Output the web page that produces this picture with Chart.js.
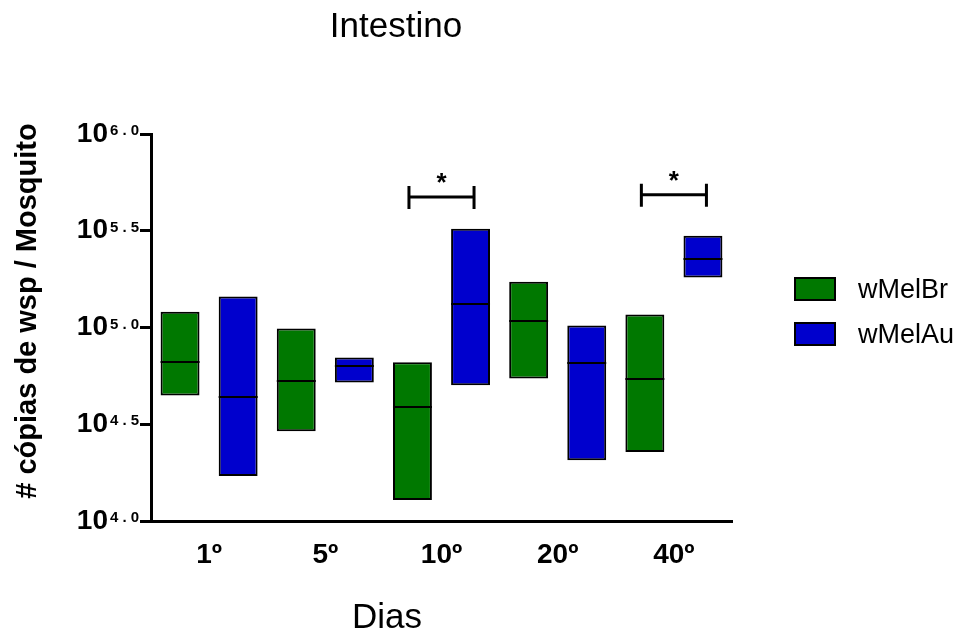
<!DOCTYPE html>
<html><head><meta charset="utf-8">
<script src="https://cdn.jsdelivr.net/npm/chart.js@4"></script>
<style>html,body{margin:0;padding:0;background:#fff}#wrap{width:970px;height:637px}</style>
</head><body><div id="wrap"><canvas id="c" width="970" height="637"></canvas></div>
<script>
const titleText = 'Intestino';
const xTitle = 'Dias';
const yTitle = '# cópias de wsp / Mosquito';
const categories = ['1º', '5º', '10º', '20º', '40º'];
const seriesNames = ['wMelBr', 'wMelAu'];
// values are log10(copies)
const wMelBrMin    = [4.649, 4.464, 4.108, 4.737, 4.356];
const wMelBrMax    = [5.082, 4.995, 4.820, 5.237, 5.067];
const wMelBrMedian = [4.820, 4.722, 4.588, 5.036, 4.732];
const wMelAuMin    = [4.232, 4.716, 4.701, 4.314, 5.258];
const wMelAuMax    = [5.160, 4.845, 5.510, 5.010, 5.474];
const wMelAuMedian = [4.639, 4.799, 5.119, 4.814, 5.356];
const yTicks = [4.0, 4.5, 5.0, 5.5, 6.0];
const sigCategories = ['10º', '40º'];
const sigLevels = [5.675, 5.686];
const sigMarks = ['*', '*'];

const FONT = "'Liberation Sans', Arial, sans-serif";
Chart.defaults.font.family = FONT;
const colors = ['#007800', '#0000CD'];

const medians = [wMelBrMedian, wMelAuMedian];

const annot = {
  id: 'annot',
  afterDatasetsDraw(chart) {
    const ctx = chart.ctx, ys = chart.scales.y, xs = chart.scales.x;
    ctx.save();
    ctx.strokeStyle = '#000';
    ctx.lineWidth = 2;
    chart.data.datasets.forEach((ds, di) => {
      const meta = chart.getDatasetMeta(di);
      meta.data.forEach((bar, i) => {
        const p = bar.getProps(['x', 'width'], true);
        const y = Math.round(ys.getPixelForValue(medians[di][i]));
        ctx.beginPath();
        ctx.moveTo(p.x - p.width / 2, y);
        ctx.lineTo(p.x + p.width / 2, y);
        ctx.stroke();
      });
    });
    // significance brackets
    const catW = (chart.chartArea.right - chart.chartArea.left) / categories.length;
    sigCategories.forEach((c, k) => {
      const cx = xs.getPixelForValue(categories.indexOf(c));
      const y = ys.getPixelForValue(sigLevels[k]);
      const half = catW * 0.28;
      ctx.lineWidth = 3;
      ctx.beginPath();
      ctx.moveTo(cx - half, y); ctx.lineTo(cx + half, y);
      ctx.moveTo(cx - half, y - 11); ctx.lineTo(cx - half, y + 12);
      ctx.moveTo(cx + half, y - 11); ctx.lineTo(cx + half, y + 12);
      ctx.stroke();
      ctx.fillStyle = '#000';
      ctx.font = 'bold 26px ' + FONT;
      ctx.textAlign = 'center';
      ctx.textBaseline = 'alphabetic';
      ctx.fillText(sigMarks[k], cx, y - 6);
    });
    ctx.restore();
  },
  afterDraw(chart) {
    const ctx = chart.ctx, ys = chart.scales.y;
    ctx.save();
    ctx.fillStyle = '#000';
    // exponents of y tick labels
    ctx.font = 'bold 15px ' + FONT;
    ctx.textAlign = 'left';
    ctx.textBaseline = 'alphabetic';
    ys.ticks.forEach(t => {
      const y = ys.getPixelForValue(t.value);
      ctx.fillText(t.value.toFixed(1).split('').join(' '), 110, y + 1);
    });
    // chart title
    ctx.font = '35px ' + FONT;
    ctx.textAlign = 'center';
    ctx.fillText(titleText, 396, 37);
    // x title
    ctx.fillText(xTitle, 387, 628);
    // y title
    ctx.save();
    ctx.translate(36, 311);
    ctx.rotate(-Math.PI / 2);
    ctx.font = 'bold 29px ' + FONT;
    ctx.fillText(yTitle, 0, 0);
    ctx.restore();
    // legend
    chart.data.datasets.forEach((ds, i) => {
      const top = 278 + i * 45;
      ctx.fillStyle = ds.backgroundColor;
      ctx.fillRect(795, top, 40, 22);
      ctx.lineWidth = 2;
      ctx.strokeStyle = '#000';
      ctx.strokeRect(795, top, 40, 22);
      ctx.fillStyle = '#000';
      ctx.font = '27px ' + FONT;
      ctx.textAlign = 'left';
      ctx.fillText(ds.label, 858, top + 20);
    });
    ctx.restore();
  }
};

new Chart(document.getElementById('c'), {
  type: 'bar',
  data: {
    labels: categories,
    datasets: [
      { label: seriesNames[0], data: categories.map((c, i) => [wMelBrMin[i], wMelBrMax[i]]),
        backgroundColor: colors[0], borderColor: '#000', borderWidth: 2, borderSkipped: false,
        categoryPercentage: 1.0, barPercentage: 0.67 },
      { label: seriesNames[1], data: categories.map((c, i) => [wMelAuMin[i], wMelAuMax[i]]),
        backgroundColor: colors[1], borderColor: '#000', borderWidth: 2, borderSkipped: false,
        categoryPercentage: 1.0, barPercentage: 0.67 }
    ]
  },
  options: {
    responsive: false,
    animation: false,
    layout: { padding: { top: 134, right: 238, left: 0, bottom: 0 } },
    plugins: { legend: { display: false }, title: { display: false }, tooltip: { enabled: false } },
    scales: {
      x: {
        grid: { display: false },
        border: { display: true, color: '#000', width: 3 },
        ticks: { color: '#000', font: { size: 28, weight: 'bold' }, padding: 9 },
        afterFit(s) { s.height = 116; }
      },
      y: {
        min: 4, max: 6,
        afterBuildTicks(s) { s.ticks = yTicks.map(v => ({ value: v })); },
        grid: { drawOnChartArea: false, drawTicks: true, tickLength: 11, lineWidth: 3, color: '#000' },
        border: { color: '#000', width: 3 },
        ticks: { callback: () => '10', color: '#000', font: { size: 28, weight: 'bold' }, padding: 32 },
        afterFit(s) { s.width = 151; }
      }
    }
  },
  plugins: [annot]
});
</script>
</body></html>
